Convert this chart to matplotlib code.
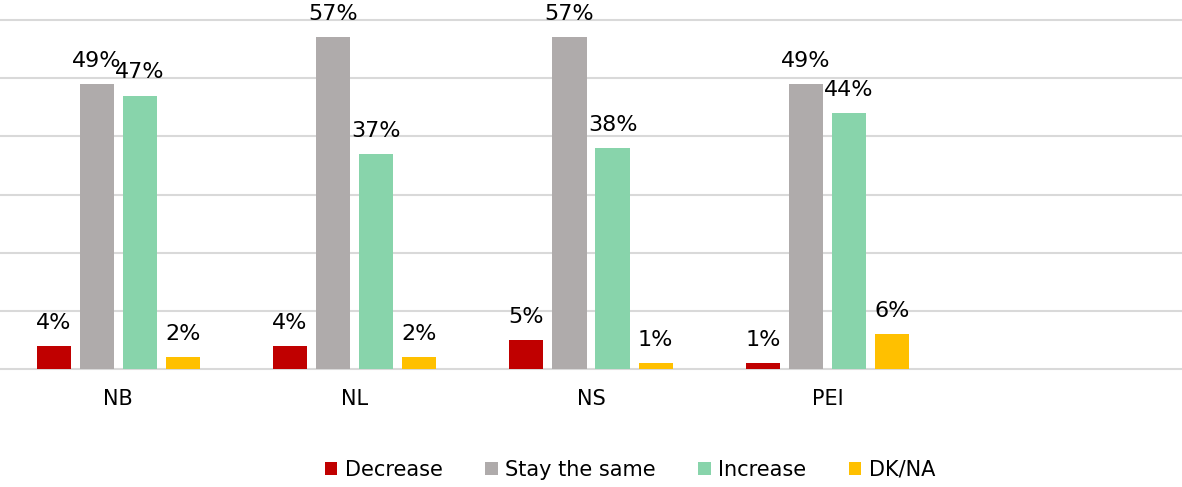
import numpy as np
import matplotlib.pyplot as plt

regions = ["NB", "NL", "NS", "PEI"]
series = ["Decrease", "Stay the same", "Increase", "DK/NA"]
decrease = [4, 4, 5, 1]
stay_same = [49, 57, 57, 49]
increase = [47, 37, 38, 44]
dk_na = [2, 2, 1, 6]
colors = ["#C00000", "#AFABAB", "#88D4AB", "#FFC000"]

values = [decrease, stay_same, increase, dk_na]

fig = plt.figure(figsize=(11.82, 4.87), dpi=100)
ax = fig.add_axes([0.0, 0.2423, 1.0, 0.7166])

x = np.arange(len(regions))
step = 0.182
width = 0.144
for i, (name, vals, col) in enumerate(zip(series, values, colors)):
    pos = x + (i - 1.5) * step
    bars = ax.bar(pos, vals, width=width, color=col, label=name, zorder=3)
    for b, v in zip(bars, vals):
        ax.annotate(f"{v}%", (b.get_x() + b.get_width() / 2, v),
                    xytext=(0, 9.5), textcoords="offset points",
                    ha="center", va="bottom", fontsize=16, color="black")

ax.set_xlim(-0.5, 4.5)
ax.set_ylim(0, 60)
# horizontal gridlines, drawn unclipped so the edge ones keep full width
for yv in np.arange(0, 61, 10):
    ax.axhline(yv, color="#D9D9D9", linewidth=1.5, zorder=0, clip_on=False)
ax.set_yticks([])
ax.tick_params(axis="x", bottom=False, labelsize=15, pad=11)
ax.set_xticks(x)
ax.set_xticklabels(regions)
for s in ["top", "right", "left", "bottom"]:
    ax.spines[s].set_visible(False)

handles, labels = ax.get_legend_handles_labels()
fig.legend(handles, labels, loc="center", bbox_to_anchor=(0.533, 0.035),
           ncol=4, frameon=False, fontsize=15, handlelength=0.6,
           handleheight=0.6, handletextpad=0.35, columnspacing=2.05)

fig.savefig("out.png", dpi=100)
